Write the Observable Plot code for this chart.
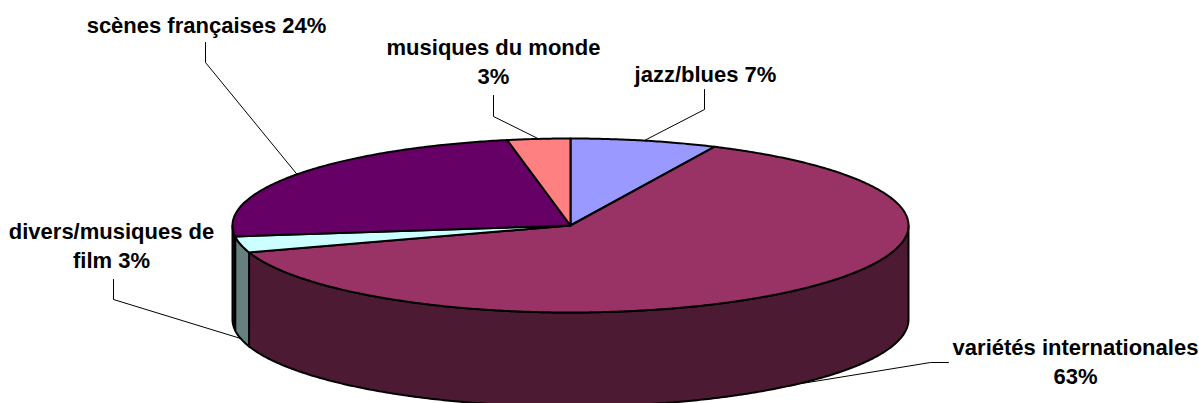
<!DOCTYPE html>
<html><head><meta charset="utf-8">
<script src="https://cdn.jsdelivr.net/npm/d3@7"></script>
<script src="https://cdn.jsdelivr.net/npm/@observablehq/plot@0.6"></script>
<style>body{margin:0;background:#fff} #chart svg{display:block}</style>
</head><body><div id="chart"></div>
<script>
// ---- data ----
const categories = ["jazz/blues", "variétés internationales", "divers/musiques de film", "scènes françaises", "musiques du monde"];
const values = [7, 63, 3, 24, 3];

// ---- styles ----
const topColors = ["#9999FF", "#993366", "#CCFFFF", "#660066", "#FF8080"];
const sideColors = ["#4D4D80", "#4D1A33", "#668080", "#330033", "#804040"];

// ---- layout ----
const W = 1199, H = 403;
const cx = 570, cy = 225, rx = 338, ry = 87, depth = 94;
const labelLayout = [
  {x: 705, y: 81, wrap: 99, lead: [[704, 89], [704, 109]]},
  {x: 1075, y: 383, wrap: 24, lead: [[948, 362], [930, 362]]},
  {x: 111, y: 267, wrap: 18, lead: [[113, 279], [113, 299]]},
  {x: 206, y: 32, wrap: 99, lead: [[205, 42], [205, 62]]},
  {x: 493, y: 83, wrap: 17, lead: [[493, 95], [493, 116]]}
];

function wrap(str, max) {
  const words = str.split(" "); const lines = []; let cur = "";
  for (const w of words) {
    if (cur && (cur + " " + w).length > max) { lines.push(cur); cur = w; }
    else cur = cur ? cur + " " + w : w;
  }
  lines.push(cur);
  return lines.join("\n");
}

const total = d3.sum(values);
const pt = (a, dz = 0) => [cx + rx * Math.sin(a), cy - ry * Math.cos(a) + dz];
function arc(a0, a1, dz) {
  const n = Math.max(2, Math.ceil(Math.abs(a1 - a0) / (Math.PI / 360)));
  return d3.range(n + 1).map(i => pt(a0 + (a1 - a0) * i / n, dz));
}

let acc = 0;
const slices = values.map((v, i) => {
  const a0 = acc / total * 2 * Math.PI; acc += v;
  const a1 = acc / total * 2 * Math.PI;
  return {i, v, a0, a1, mid: (a0 + a1) / 2};
});

const marks = [];
// side faces (front half only)
for (const s of slices) {
  const lo = Math.max(s.a0, Math.PI / 2), hi = Math.min(s.a1, 3 * Math.PI / 2);
  if (lo < hi) {
    const poly = [...arc(lo, hi, 0), ...arc(hi, lo, depth)];
    marks.push(Plot.line(poly, {x: d => d[0], y: d => d[1], curve: "linear-closed",
      fill: sideColors[s.i], stroke: "black", strokeWidth: 2, strokeLinejoin: "round"}));
  }
}
// top faces
for (const s of slices) {
  const poly = [[cx, cy], ...arc(s.a0, s.a1, 0)];
  marks.push(Plot.line(poly, {x: d => d[0], y: d => d[1], curve: "linear-closed",
    fill: topColors[s.i], stroke: "black", strokeWidth: 2, strokeLinejoin: "round"}));
}
// leader lines + labels
for (const s of slices) {
  const L = labelLayout[s.i];
  const front = Math.cos(s.mid) < 0;
  const end = pt(s.mid, front ? depth : 0);
  marks.push(Plot.line([...L.lead, end], {x: d => d[0], y: d => d[1], stroke: "black", strokeWidth: 1}));
  marks.push(Plot.text([s], {x: () => L.x, y: () => L.y,
    text: d => wrap(`${categories[d.i]} ${d.v}%`, L.wrap),
    fontSize: 22, fontWeight: "bold", fontFamily: "'Liberation Sans', Arial, sans-serif",
    textAnchor: "middle", lineAnchor: "bottom", lineHeight: 1.3, fill: "black"}));
}

const chart = Plot.plot({
  width: W, height: H, margin: 0,
  x: {domain: [0, W], range: [0, W], axis: null},
  y: {domain: [0, H], range: [0, H], axis: null},
  style: {background: "white"},
  marks
});
document.getElementById("chart").append(chart);
</script>
</body></html>
